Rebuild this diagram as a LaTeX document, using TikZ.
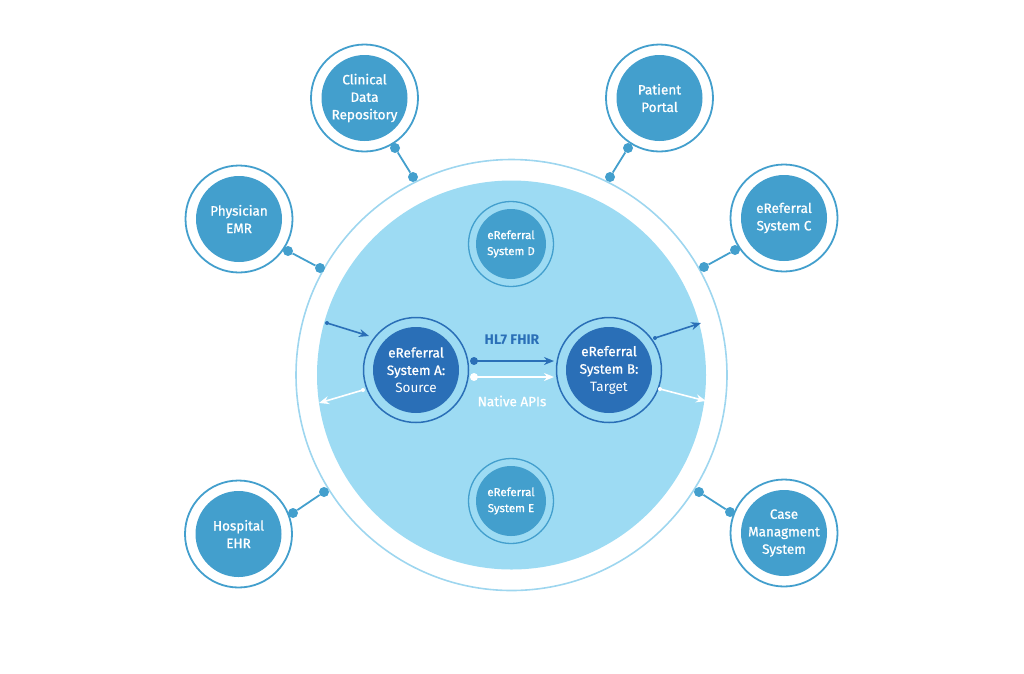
\documentclass[tikz,border=0pt]{standalone}
\usepackage{fontspec}
\setmainfont{Fira Sans}
\newfontfamily\medfont{Fira Sans}[FakeBold=0.9]
\usetikzlibrary{arrows.meta,calc}
\definecolor{cmid}{HTML}{439FCD}
\definecolor{clight}{HTML}{9DDBF3}
\definecolor{cline}{HTML}{9ED6EF}
\definecolor{cdark}{HTML}{2A6FB7}
\begin{document}
\begin{tikzpicture}[x=1pt,y=-1pt,
  outernode/.style={circle,fill=cmid,minimum size=86pt,inner sep=0pt,text=white,align=center,font=\medfont\fontsize{13.5}{17.5}\selectfont},
  outerring/.style={draw=cmid,line width=1.8pt},
  innernode/.style={circle,fill=cmid,minimum size=70pt,inner sep=0pt,text=white,align=center,font=\medfont\fontsize{11.5}{16}\selectfont},
  innerring/.style={draw=cmid,line width=1.3pt},
  sysnode/.style={circle,fill=cdark,minimum size=86pt,inner sep=0pt,text=white,align=center,font=\medfont\fontsize{13.5}{17.5}\selectfont},
  sysring/.style={draw=cdark,line width=1.5pt},
  bigdot/.style={circle,fill=cmid,minimum size=10pt,inner sep=0pt},
  linkline/.style={draw=cmid,line width=1.8pt},
  smalldot/.style={circle,minimum size=6pt,inner sep=0pt},
  tinydot/.style={circle,minimum size=4pt,inner sep=0pt},
  flowarrow/.style={line width=1.6pt,-{Stealth[length=10pt,width=8pt]}},
]
\useasboundingbox (0,0) rectangle (1024,673);
% hub
\node[circle,fill=clight,minimum size=389pt,inner sep=0pt] (hub) at (511.5,375) {};
\draw[draw=cline,line width=1.6pt] (hub.center) circle[radius=215.5];

% outer nodes
\node[outernode] (cdr) at (364.5,98) {Clinical\\Data\\Repository};
\draw[outerring] (cdr.center) circle[radius=53.5];
\node[outernode] (emr) at (239,219) {Physician\\EMR};
\draw[outerring] (emr.center) circle[radius=53.5];
\node[outernode] (pp) at (659.5,98) {Patient\\Portal};
\draw[outerring] (pp.center) circle[radius=53.5];
\node[outernode] (sc) at (784,218) {eReferral\\System C};
\draw[outerring] (sc.center) circle[radius=53.5];
\node[outernode] (ehr) at (238.5,534) {Hospital\\EHR};
\draw[outerring] (ehr.center) circle[radius=53.5];
\node[outernode] (cms) at (784,533) {Case\\Managment\\System};
\draw[outerring] (cms.center) circle[radius=53.5];

% link dots
\node[bigdot] (cdr1) at (395,148) {};
\node[bigdot] (cdr2) at (413,177) {};
\node[bigdot] (emr1) at (288,251) {};
\node[bigdot] (emr2) at (320,268) {};
\node[bigdot] (pp1) at (628,148) {};
\node[bigdot] (pp2) at (610,177) {};
\node[bigdot] (sc1) at (735,250) {};
\node[bigdot] (sc2) at (704,267) {};
\node[bigdot] (ehr1) at (293,513) {};
\node[bigdot] (ehr2) at (324,492) {};
\node[bigdot] (cms1) at (730,512) {};
\node[bigdot] (cms2) at (699,492) {};
\draw[linkline] (cdr1) -- (cdr2);
\draw[linkline] (emr1) -- (emr2);
\draw[linkline] (pp1) -- (pp2);
\draw[linkline] (sc1) -- (sc2);
\draw[linkline] (ehr1) -- (ehr2);
\draw[linkline] (cms1) -- (cms2);

% inner systems D and E
\node[innernode] (sd) at (511,244) {eReferral\\System D};
\draw[innerring] (sd.center) circle[radius=42.5];
\node[innernode] (se) at (511,501) {eReferral\\System E};
\draw[innerring] (se.center) circle[radius=42.5];

% systems A and B
\node[sysnode] (sa) at (416,370) {eReferral\\System A:\\{\normalfont\fontsize{13.5}{17.5}\selectfont Source}};
\draw[sysring] (sa.center) circle[radius=52.5];
\node[sysnode] (sb) at (609,370) {eReferral\\System B:\\{\normalfont\fontsize{13.5}{17.5}\selectfont Target}};
\draw[sysring] (sb.center) circle[radius=52.5];

% HL7 FHIR
\node[smalldot,fill=cdark,minimum size=8pt] (h1) at (474,361) {};
\coordinate (h2) at (554,361);
\draw[cdark,flowarrow] (h1.center) -- (h2);
\node[text=cdark,font=\fontsize{14}{16}\selectfont\bfseries] (hl7) at (512,340) {HL7 FHIR};
% Native APIs
\node[smalldot,fill=white,minimum size=8pt] (n1) at (474,377) {};
\coordinate (n2) at (554,377);
\draw[white,flowarrow] (n1.center) -- (n2);
\node[text=white,font=\medfont\fontsize{13.5}{16}\selectfont] (napi) at (512,401) {Native APIs};

% side arrows
\node[tinydot,fill=cdark] (a1) at (327,323) {};
\coordinate (a2) at (369,336);
\draw[cdark,flowarrow] (a1.center) -- (a2);
\node[tinydot,fill=white] (a3) at (363,390) {};
\coordinate (a4) at (319,403);
\draw[white,flowarrow] (a3.center) -- (a4);
\node[tinydot,fill=cdark] (b1) at (655,338) {};
\coordinate (b2) at (701,323);
\draw[cdark,flowarrow] (b1.center) -- (b2);
\node[tinydot,fill=white] (b3) at (660,389) {};
\coordinate (b4) at (706,401);
\draw[white,flowarrow] (b3.center) -- (b4);
\end{tikzpicture}
\end{document}
